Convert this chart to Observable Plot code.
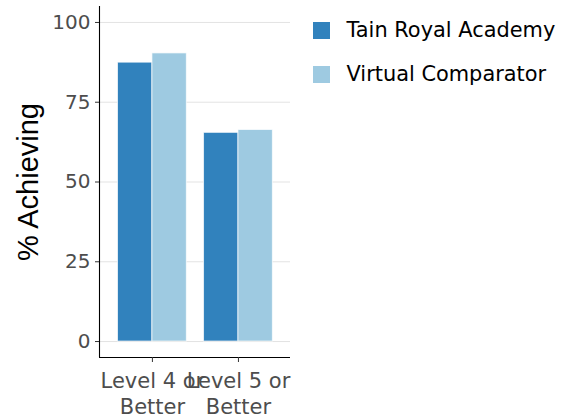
<!DOCTYPE html>
<html>
<head>
<meta charset="utf-8">
<script src="https://cdn.jsdelivr.net/npm/d3@7"></script>
<script src="https://cdn.jsdelivr.net/npm/@observablehq/plot@0.6"></script>
<style>
  html, body { margin: 0; padding: 0; background: #fff; }
  #wrap { position: relative; width: 566px; height: 418px; overflow: hidden; }
  #chart { position: absolute; left: 0; top: 0; }
  .ytitle {
    position: absolute; left: 27.8px; top: 181.5px;
    transform: translate(-50%, -50%) rotate(-90deg);
    font-family: "Liberation Sans", Arial, sans-serif; font-size: 29px; line-height: 29px;
    color: #000; white-space: nowrap;
  }
  .legend-item {
    position: absolute; left: 312.5px; height: 17px; display: flex; align-items: flex-start;
    font-family: "DejaVu Sans", sans-serif; font-size: 20.9px; line-height: 17px; color: #000; white-space: nowrap;
  }
  .legend-item .sw { width: 17px; height: 17px; margin-right: 17px; flex: none; }
</style>
</head>
<body>
<div id="wrap">
  <div id="chart"></div>
  <div class="ytitle">% Achieving</div>
  <div id="legend"></div>
</div>
<script>
const categories = ["Level 4 or Better", "Level 5 or Better"];
const series = ["Tain Royal Academy", "Virtual Comparator"];
const tainValues = [87.4, 65.4];
const comparatorValues = [90.3, 66.3];
const yTicks = [0, 25, 50, 75, 100];
const seriesColors = ["#3182bd", "#9ecae1"];

const rows = categories.flatMap((c, i) => series.map((s, j) => ({
  category: c, index: i, series: s, order: j,
  value: j === 0 ? tainValues[i] : comparatorValues[i]
})));

const barWidth = 0.4;
const xDomain = [-0.615, 1.605];
const yDomain = [-5, 105];

const chart = Plot.plot({
  width: 566,
  height: 418,
  marginLeft: 99,
  marginRight: 276,
  marginTop: 6,
  marginBottom: 61,
  style: { fontFamily: "DejaVu Sans, sans-serif", fontSize: "20px", color: "#4d4d4d", background: "transparent" },
  x: { type: "linear", domain: xDomain },
  y: { domain: yDomain },
  color: { domain: series, range: seriesColors },
  marks: [
    Plot.gridY(yTicks, { stroke: "#e3e3e3", strokeOpacity: 1, strokeWidth: 1 }),
    Plot.rectY(rows, {
      x1: d => d.index + (d.order - 1) * barWidth,
      x2: d => d.index + d.order * barWidth,
      y1: 0,
      y2: "value",
      fill: "series",
      stroke: "white",
      strokeWidth: 1,
      strokeOpacity: 0.7
    }),
    Plot.ruleX([xDomain[0]], { stroke: "#000", strokeWidth: 1.1 }),
    Plot.ruleY([yDomain[0]], { stroke: "#000", strokeWidth: 1.1 }),
    Plot.axisY(yTicks, { tickSize: 4, tickPadding: 5, label: null, stroke: "#333", fill: "#4d4d4d" }),
    Plot.axisX(categories.map((c, i) => i), {
      tickSize: 5, tickPadding: 8, label: null, stroke: "#333", fill: "#4d4d4d",
      fontSize: 21,
      lineHeight: 1.2,
      tickFormat: i => categories[i].replace(" or ", " or\n")
    })
  ]
});
document.getElementById("chart").appendChild(chart);

const legend = document.getElementById("legend");
series.forEach((s, j) => {
  const item = document.createElement("div");
  item.className = "legend-item";
  item.style.top = (22.2 + j * 44) + "px";
  const sw = document.createElement("span");
  sw.className = "sw";
  sw.style.background = seriesColors[j];
  const label = document.createElement("span");
  label.textContent = s;
  item.appendChild(sw);
  item.appendChild(label);
  legend.appendChild(item);
});
</script>
</body>
</html>
